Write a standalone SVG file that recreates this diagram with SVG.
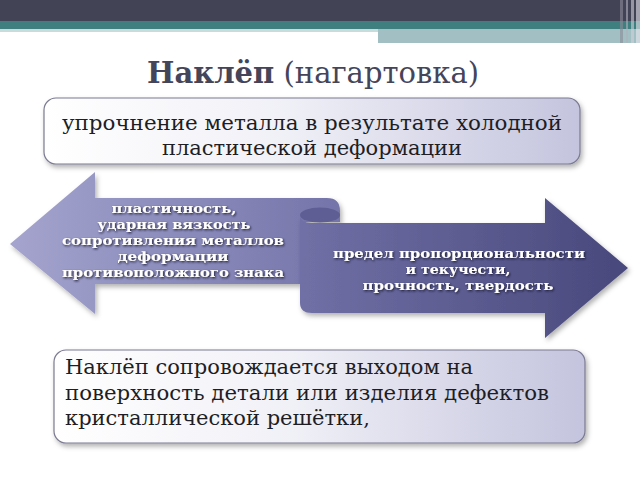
<svg xmlns="http://www.w3.org/2000/svg" width="640" height="480" viewBox="0 0 640 480">
<style>
.box{stroke:#7a7a92;stroke-width:1.2}
.btxt{font-family:"DejaVu Serif","Liberation Serif",serif;font-size:21px;fill:#1e1e24}
.atxt{font-family:"DejaVu Serif","Liberation Serif",serif;font-size:13.5px;font-weight:bold;fill:#ffffff;text-anchor:middle}
.title{font-family:"DejaVu Serif","Liberation Serif",serif;font-size:29px;fill:#45455a}
</style>
<defs>
<linearGradient id="boxg" x1="0" y1="0" x2="1" y2="0">
<stop offset="0" stop-color="#ffffff"/>
<stop offset="0.45" stop-color="#f0f0f7"/>
<stop offset="1" stop-color="#c4c4de"/>
</linearGradient>
<linearGradient id="lg" x1="0" y1="0" x2="1" y2="0">
<stop offset="0" stop-color="#a4a4ce"/>
<stop offset="1" stop-color="#7474aa"/>
</linearGradient>
<linearGradient id="rg" x1="0" y1="0" x2="1" y2="0">
<stop offset="0" stop-color="#7070a6"/>
<stop offset="1" stop-color="#48487c"/>
</linearGradient>
<filter id="sh" x="-5%" y="-10%" width="115%" height="130%">
<feDropShadow dx="2" dy="3" stdDeviation="2.5" flood-color="#000" flood-opacity="0.3"/>
</filter>
<filter id="tsh" x="-10%" y="-30%" width="120%" height="160%">
<feDropShadow dx="1" dy="1.2" stdDeviation="1" flood-color="#15152a" flood-opacity="0.95"/>
</filter>
</defs>

<g id="header">
<rect x="0" y="0" width="640" height="22" fill="#434356"/>
<rect x="0" y="21" width="640" height="8" fill="#3f7f80"/>
<rect x="0" y="29" width="378" height="3" fill="#c8dcdc"/>
<rect x="378" y="29" width="262" height="14" fill="#a2c0c3"/>
<rect x="620" y="0" width="3" height="43" fill="#8a8a98" opacity="0.6"/>
<rect x="626" y="0" width="2" height="43" fill="#b0b0bc" opacity="0.6"/>
<rect x="631" y="0" width="3" height="43" fill="#d0d0d8" opacity="0.6"/>
<rect x="636" y="0" width="4" height="43" fill="#e8e8ee" opacity="0.6"/>
</g>

<g id="title">
<text x="147" y="83" class="title"><tspan font-weight="bold">Наклёп</tspan> (нагартовка)</text>
</g>

<g id="top-box">
<rect class="box" x="44" y="98" width="536" height="66" rx="12" fill="url(#boxg)" filter="url(#sh)"/>
<text class="btxt" x="312" y="130" text-anchor="middle" textLength="500" lengthAdjust="spacingAndGlyphs">упрочнение металла в результате холодной</text>
<text class="btxt" x="312" y="155" text-anchor="middle">пластической деформации</text>
</g>

<g id="connectors">
<g id="left-arrow">
<path d="M10,244 L95,172 L95,198 L327,198 Q340,198 340,211 L340,222 L300,222 L300,284 L95,284 L95,314 Z" fill="url(#lg)" filter="url(#sh)"/>
<g filter="url(#tsh)">
<text class="atxt" x="174" y="213" textLength="125" lengthAdjust="spacingAndGlyphs">пластичность,</text>
<text class="atxt" x="174" y="229" textLength="153" lengthAdjust="spacingAndGlyphs">ударная вязкость</text>
<text class="atxt" x="173" y="245" textLength="222" lengthAdjust="spacingAndGlyphs">сопротивления металлов</text>
<text class="atxt" x="173" y="261" textLength="111" lengthAdjust="spacingAndGlyphs">деформации</text>
<text class="atxt" x="173" y="277" textLength="222" lengthAdjust="spacingAndGlyphs">противоположного знака</text>
</g>
</g>
<g id="right-arrow">
<path d="M300,214 Q300,223 312,223 L545,223 L545,198 L628,268 L545,338 L545,313 L312,313 Q300,313 300,303 Z" fill="url(#rg)" filter="url(#sh)"/>
<ellipse cx="320" cy="215" rx="20" ry="7.5" fill="#5e5e94"/>
<g filter="url(#tsh)">
<text class="atxt" x="459" y="258" textLength="252" lengthAdjust="spacingAndGlyphs">предел пропорциональности</text>
<text class="atxt" x="458" y="274" textLength="105" lengthAdjust="spacingAndGlyphs">и текучести,</text>
<text class="atxt" x="458" y="290" textLength="191" lengthAdjust="spacingAndGlyphs">прочность,  твердость</text>
</g>
</g>
</g>

<g id="bottom-box">
<rect class="box" x="54" y="350" width="531" height="93" rx="12" fill="url(#boxg)" filter="url(#sh)"/>
<text class="btxt" x="65" y="374">Наклёп сопровождается выходом на</text>
<text class="btxt" x="65" y="400" textLength="484" lengthAdjust="spacingAndGlyphs">поверхность детали или изделия дефектов</text>
<text class="btxt" x="65" y="425">кристаллической решётки,</text>
</g>
</svg>
